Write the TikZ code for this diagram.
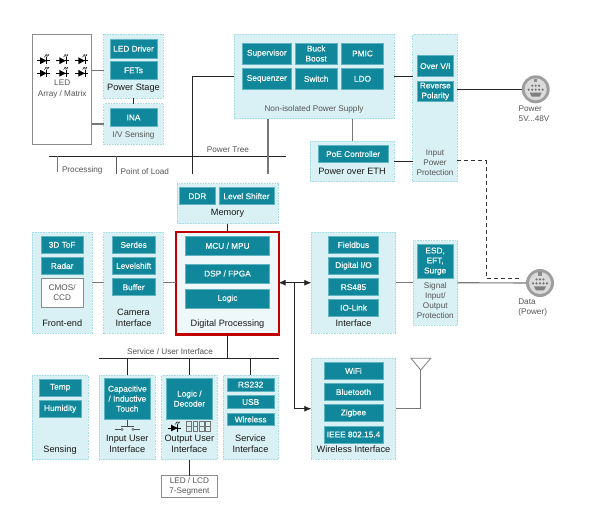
\documentclass[tikz,border=0pt]{standalone}
\usepackage{fontspec}
\setmainfont{Liberation Sans}
\newfontfamily\boxfont[FakeBold=0.3]{Liberation Sans}
\usetikzlibrary{arrows.meta}
\definecolor{teal}{HTML}{10879A}
\definecolor{tealedge}{HTML}{5FB4C2}
\definecolor{panelfill}{HTML}{D9F0F4}
\definecolor{paneledge}{HTML}{A6DCE4}
\definecolor{dpfill}{HTML}{EEF7F9}
\definecolor{dpred}{HTML}{C00000}
\definecolor{lgrey}{HTML}{777777}
\definecolor{tgrey}{HTML}{555555}
\tikzset{
  base/.style={inner sep=0pt,outer sep=0pt,anchor=north west,align=center},
  panelbox/.style={base,fill=panelfill,draw=paneledge,line width=0.6pt,densely dotted},
  tealbox/.style={base,fill=teal,draw=tealedge,line width=0.5pt,text=white,font=\fontsize{8.3}{10}\boxfont},
  whitebox/.style={base,fill=white,draw=black!45,line width=0.9pt,text=tgrey,font=\fontsize{8.2}{10}\selectfont},
  dpbox/.style={base,fill=dpfill,draw=dpred,line width=2.2pt},
  lab/.style={inner sep=0pt,outer sep=0pt,align=center,text=black!90,font=\fontsize{9.2}{11}\selectfont},
  sublab/.style={inner sep=0pt,outer sep=0pt,align=center,text=tgrey,font=\fontsize{8.2}{10.2}\selectfont},
  wire/.style={draw=black!85,line width=0.8pt},
  gwire/.style={draw=lgrey,line width=1.1pt},
  tip/.style={-{Latex[length=7pt,width=6pt]}},
  dashwire/.style={draw=black!80,line width=0.8pt,dash pattern=on 4pt off 3pt},
}
\newcommand{\bx}[6]{% style,name,x1,y1,x2,y2 + following text
  \pgfmathsetmacro{\bw}{#5-#3}\pgfmathsetmacro{\bh}{#6-#4}
  \node[#1,minimum width=\bw pt,minimum height=\bh pt] (#2) at (#3,#4)}
\newcommand{\ledsym}[2]{%
  \begin{scope}[shift={(#1,#2)}]
    \fill[black] (-3.3,-3.4) -- (-3.3,3.4) -- (3.2,0) -- cycle;
    \draw[black,line width=0.8pt] (3.3,-3.6) -- (3.3,3.6);
    \draw[black,line width=0.7pt] (-6.5,0) -- (6.5,0);
    \draw[black!80,line width=0.5pt,-{Latex[length=1.8pt,width=1.8pt]}] (0.8,-3.6) -- (3.4,-6.6);
    \draw[black!80,line width=0.5pt,-{Latex[length=1.8pt,width=1.8pt]}] (3,-3.6) -- (5.6,-6.6);
  \end{scope}}
\newcommand{\connsym}[3]{%
  \node[circle,fill=black!38,minimum size=28pt,inner sep=0pt,outer sep=0pt] (#3) at (#1,#2) {};
  \begin{scope}[shift={(#1,#2)}]
    \fill[black!14] (0,0) circle (11);
    \fill[black!45] (-1.6,-10.8) rectangle (1.6,-7);
    \foreach \px in {-3.4,0,3.4} \fill[black!55] (\px,-3.6) circle (1.2);
    \foreach \px in {-7,-3.5,0,3.5,7} \fill[black!55] (\px,0.4) circle (1.2);
    \fill[black!50] (-6,3.4) -- (6,3.4) -- (4,7.4) -- (-4,7.4) -- cycle;
  \end{scope}}
\begin{document}
\begin{tikzpicture}[x=1pt,y=-1pt]
\useasboundingbox[fill=white] (0,0) rectangle (592,512);

% panels
\bx{base,fill=white,draw=black!45,line width=0.9pt}{led}{32.7}{34.3}{91.7}{144}{};
\bx{panelbox}{pstage}{103.7}{34.3}{163.3}{98}{};
\bx{panelbox}{ivs}{103.7}{103.7}{163.3}{144.3}{};
\bx{panelbox}{nips}{234}{34.3}{394.3}{118.7}{};
\bx{panelbox}{ipp}{412.7}{34.3}{457.3}{181.7}{};
\bx{panelbox}{poe}{310}{141.3}{394.3}{181.7}{};
\bx{panelbox}{mem}{177}{183.7}{278.3}{223.7}{};
\bx{panelbox}{fe}{32.3}{232}{92}{333.3}{};
\bx{panelbox}{cam}{103.7}{232}{163.3}{333.3}{};
\bx{dpbox}{dp}{176.2}{232}{278.6}{334.4}{};
\bx{panelbox}{ifc}{311.3}{232}{395.7}{333.3}{};
\bx{panelbox}{sig}{413}{240.7}{457.7}{325}{};
\bx{panelbox}{sens}{32.3}{375.3}{88}{459.7}{};
\bx{panelbox}{iui}{99.3}{375.3}{155}{459.7}{};
\bx{panelbox}{oui}{161.7}{375.3}{217}{459.7}{};
\bx{panelbox}{sui}{223}{375.3}{278.3}{459.7}{};
\bx{panelbox}{wl}{311.3}{358.3}{395.7}{459.3}{};
\bx{whitebox}{seg}{161.7}{475.7}{217}{497}{LED / LCD\\7-Segment};

% LED array contents
\foreach \lx in {43.5,62.7,81.7}{\ledsym{\lx}{60.7}\ledsym{\lx}{73.3}}
\node[sublab] (ledlab) at (62.2,89) {LED\\Array / Matrix};

% teal boxes
\bx{tealbox}{ldrv}{110}{39.3}{157}{58}{LED Driver};
\bx{tealbox}{fets}{110}{61}{157}{79.7}{FETs};
\bx{tealbox}{ina}{110}{108.3}{157}{126.7}{INA};
\bx{tealbox}{sup}{242.7}{43}{291}{64}{Supervisor};
\bx{tealbox}{seq}{242.7}{68.3}{291}{89.3}{Sequenzer};
\bx{tealbox}{buck}{295}{43}{337.3}{64}{Buck\\Boost};
\bx{tealbox}{sw}{295}{68.3}{337.3}{89.3}{Switch};
\bx{tealbox}{pmic}{341.3}{43}{383.7}{64}{PMIC};
\bx{tealbox}{ldo}{341.3}{68.3}{383.7}{89.3}{LDO};
\bx{tealbox}{ovi}{417.3}{55.3}{453.3}{76.7}{Over V/I};
\bx{tealbox}{rev}{417.3}{81}{453.3}{101.7}{Reverse\\Polarity};
\bx{tealbox}{poec}{318.3}{145.3}{388}{162.7}{PoE Controller};
\bx{tealbox}{ddr}{179.7}{187.7}{215}{204.7}{DDR};
\bx{tealbox}{lsh}{219}{187.7}{274}{204.7}{Level Shifter};
\bx{tealbox}{mcu}{185.3}{236.3}{269.7}{255.3}{MCU / MPU};
\bx{tealbox}{dsp}{185.3}{264}{269.7}{283}{DSP / FPGA};
\bx{tealbox}{lgc}{185.3}{289.3}{269.7}{308}{Logic};
\bx{tealbox}{tof}{41}{236.3}{83.3}{253.3}{3D ToF};
\bx{tealbox}{rad}{41}{257.3}{83.3}{274.3}{Radar};
\bx{whitebox}{cmos}{41}{278.3}{83.3}{307.3}{CMOS/\\CCD};
\bx{tealbox}{ser}{112.3}{236.3}{155}{253.3}{Serdes};
\bx{tealbox}{lvl}{112.3}{257.3}{155}{274.3}{Levelshift};
\bx{tealbox}{buf}{112.3}{278.7}{155}{295.7}{Buffer};
\bx{tealbox}{fbus}{328.3}{236.3}{378.7}{253.3}{Fieldbus};
\bx{tealbox}{dio}{328.3}{257.3}{378.7}{274.3}{Digital I/O};
\bx{tealbox}{rs485}{328.3}{278.7}{378.7}{295.7}{RS485};
\bx{tealbox}{iol}{328.3}{299.3}{378.7}{316}{IO-Link};
\bx{tealbox}{esd}{417.3}{244}{453}{278.7}{ESD,\\EFT,\\Surge};
\bx{tealbox}{temp}{39}{379}{81.3}{396.3}{Temp};
\bx{tealbox}{hum}{39}{400.3}{81.3}{417.3}{Humidity};
\bx{tealbox}{capt}{104}{378.3}{150.7}{419}{Capacitive\\/ Inductive\\Touch};
\bx{tealbox}{dec}{166}{378.3}{212.7}{419}{Logic /\\Decoder};
\bx{tealbox}{rs232}{227.3}{378.3}{274}{391}{RS232};
\bx{tealbox}{usb}{227.3}{395.7}{274}{408.3}{USB};
\bx{tealbox}{wls}{227.3}{413}{274}{425.7}{Wireless};
\bx{tealbox}{wifi}{324}{362.3}{383}{379.3}{WiFi};
\bx{tealbox}{bt}{324}{383.7}{383}{400.3}{Bluetooth};
\bx{tealbox}{zig}{324}{404.7}{383}{421.7}{Zigbee};
\bx{tealbox}{ieee}{324}{426}{383}{443}{IEEE 802.15.4};

% panel labels
\node[lab] (lps) at (133.5,88) {Power Stage};
\node[sublab] (liv) at (133.5,135) {I/V Sensing};
\node[sublab] (lni) at (314,109.3) {Non-isolated Power Supply};
\node[sublab] (lipp) at (435,162.5) {Input\\Power\\Protection};
\node[lab] (lpoe) at (352,171.7) {Power over ETH};
\node[lab] (lmem) at (227.5,213.7) {Memory};
\node[lab] (lfe) at (62.2,323.7) {Front-end};
\node[lab] (lcam) at (133.5,318.2) {Camera\\Interface};
\node[lab] (ldp) at (227.5,323.7) {Digital Processing};
\node[lab] (lif) at (353.5,323.7) {Interface};
\node[sublab] (lsig) at (435.3,300.7) {Signal\\Input/\\Output\\Protection};
\node[lab] (lsen) at (60,450) {Sensing};
\node[lab] (liu) at (127.3,444.2) {Input User\\Interface};
\node[lab] (lou) at (189.3,444.2) {Output User\\Interface};
\node[lab] (lsu) at (250.5,444.2) {Service\\Interface};
\node[lab] (lwl) at (353.5,449.3) {Wireless Interface};

% free labels
\node[sublab] (tptree) at (228,150) {Power Tree};
\node[sublab,anchor=west] (tproc) at (62,170) {Processing};
\node[sublab,anchor=west] (tpol) at (120.7,172) {Point of Load};
\node[sublab] (tsvc) at (170,352) {Service / User Interface};
\node[sublab,anchor=north west,align=left] (tpow) at (518.7,106) {Power\\5V...48V};
\node[sublab,anchor=north west,align=left] (tdata) at (518.3,299) {Data\\(Power)};

% connectors
\connsym{535.7}{89.3}{cpow}
\connsym{540}{283}{cdat}

\coordinate (ptl) at (49,156.3);
\coordinate (ptr) at (285.7,156.3);
\coordinate (pa) at (57.7,171.7);
\coordinate (pb) at (116.7,174);
\coordinate (pc) at (192.3,173.7);
\coordinate (pd) at (268,173.7);
\draw[wire] (ptl) -- (ptr);
\draw[gwire] (pa |- ptl) -- (pa);
\draw[wire,draw=black!65] (pb |- ptl) -- (pb);
\draw[wire] (pc |- ptl) -- (pc);
\draw[wire] (pc |- ptl) -- (192.3,76.7) -- (nips.west |- 0,76.7);
\draw[gwire,draw=lgrey] (nips.south -| pd) -- (pd);
\draw[gwire] (led.east |- fets) -- (pstage.west |- fets);
\draw[gwire] (led.east |- 0,124) -- (ivs.west |- 0,124);
\draw[wire] (pstage.south) -- (ivs.north);
\draw[wire] (nips.east |- 0,76.3) -- (ipp.west |- 0,76.3);
\draw[wire] (ipp.east |- 0,89.3) -- (cpow.west);
\draw[gwire] (nips.south -| poe.north) -- (poe.north);
\draw[wire] (poe.east |- 0,161.3) -- (ipp.west |- 0,161.3);
\coordinate (dc) at (486.3,278.3);
\coordinate (de) at (520,278.3);
\draw[dashwire] (ipp.east |- 0,160.7) -- (486.3,160.7) -- (dc) -- (de);
\draw[wire] (mem.south -| dp.north) -- (dp.north);
\draw[gwire] (fe.east |- 0,282.5) -- (cam.west |- 0,282.5);
\draw[gwire] (cam.east |- 0,282.5) -- (dp.west |- 0,282.5);
\coordinate (bus) at (294.7,282.7);
\draw[wire,{Latex[length=7pt,width=6pt]}-{Latex[length=7pt,width=6pt]}] (dp.east |- bus) -- (ifc.west |- bus);
\draw[wire] (bus) -- (294.7,408.7) coordinate (bend);
\draw[wire,tip] (bend) -- (wl.west |- bend);
\draw[gwire] (ifc.east |- bus) -- (sig.west |- bus);
\draw[gwire] (sig.east |- bus) -- (cdat.west);

\coordinate (sl) at (99.3,358.3);
\coordinate (sr) at (279,358.3);
\draw[wire] (sl) -- (sr);
\draw[wire] (dp.south) -- (dp.south |- sl);
\draw[wire] (iui.north) -- (iui.north |- sl);
\draw[wire] (oui.north) -- (oui.north |- sl);
\draw[wire] (sui.north) -- (sui.north |- sl);
\draw[wire] (oui.south) -- (seg.north);

% antenna
\coordinate (apex) at (420.7,370);
\draw[draw=black!50,line width=0.8pt] (411,358.3) -- (430.7,358.3) -- (apex) -- cycle;
\draw[gwire] (wl.east |- bend) -- (apex |- bend) -- (apex);

% switch symbol
\draw[black!70,line width=0.5pt] (127.3,420) -- (127.3,426) (121,426) -- (133.5,426);
\draw[black!70,line width=0.5pt] (114.7,429.3) -- (120.8,429.3) (134.2,429.3) -- (140,429.3);
\draw[black!70,line width=0.5pt] (122,429.3) circle (1.2) (133,429.3) circle (1.2);

% output UI symbols
\ledsym{174.3}{428}
\foreach \dx in {186.7,192.9,199.1,205.3}{
  \draw[black!55,line width=0.7pt] (\dx,421.5) rectangle (\dx+4.8,431) (\dx,426.2) -- (\dx+4.8,426.2);
}
\end{tikzpicture}
\end{document}
